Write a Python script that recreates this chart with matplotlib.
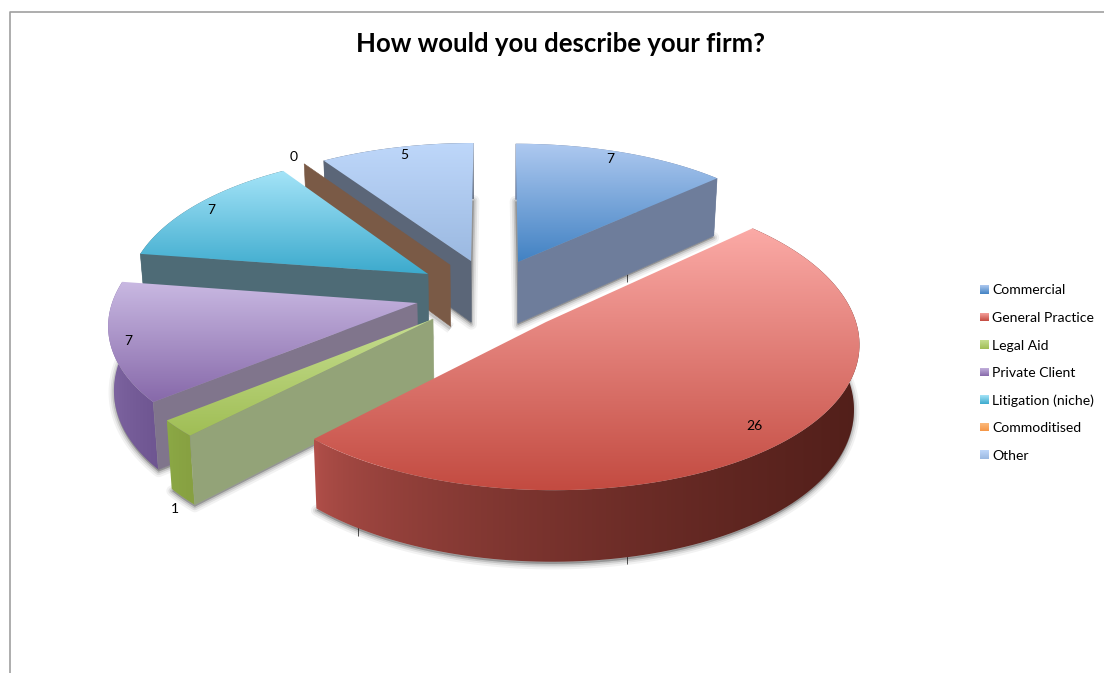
import numpy as np
import matplotlib
matplotlib.use('Agg')
import matplotlib.pyplot as plt
from matplotlib.patches import Polygon

plt.rcParams['font.family'] = ['Lato', 'DejaVu Sans']

title = 'How would you describe your firm?'
categories = ['Commercial', 'General Practice', 'Legal Aid', 'Private Client',
              'Litigation (niche)', 'Commoditised', 'Other']
values = [7, 26, 1, 7, 7, 0, 5]

# where each exploded slice has its point, in pixels
apex_x = [518, 546, 433, 417, 428, 450, 471]
apex_y = [262, 322, 319, 303, 274, 265, 261]
label_x = [610, 754, 175, 128, 211, 294, 404]
label_y = [159, 426, 509, 341, 210, 157, 155]

top_light = ['#aec9f0', '#fbaaa6', '#c6de90', '#c9b9e2', '#a5e4f8', '#fdbe82', '#bed7fa']
top_dark = ['#4282c3', '#c34b41', '#a0be55', '#8769aa', '#3caacd', '#f59646', '#9bb9e1']
cut_colors = ['#6e7d9b', '#6e2a25', '#93a378', '#80758c', '#4e6b76', '#7a5a46', '#5b6678']
wall_left = ['#6e7d9b', '#b2504a', '#8caa46', '#8269a5', '#4e6b76', '#7a5a46', '#5b6678']
wall_right = ['#6e7d9b', '#521f1a', '#87a041', '#6e5591', '#4e6b76', '#7a5a46', '#5b6678']
draw_order = [6, 5, 4, 3, 0, 2, 1]

# perspective of the pie plane: depth w maps to a screen row, and the
# horizontal scale grows towards the front
Y0 = 322.0
RY = 150.6
BEND = 17.6
X_VAN = 495.0
SCALE = 310.0
GROW = 0.00085


def row(w):
    return Y0 - RY * w + BEND * w ** 2


def depth(y):
    return (RY - np.sqrt(RY ** 2 - 4 * BEND * (Y0 - y))) / (2 * BEND)


def width(y):
    return SCALE * (1 + GROW * (y - Y0))


def to_ground(px, py):
    return (px - X_VAN) / width(py), depth(py)


def project(gx, gw, z=0.0):
    y = row(gw)
    x = X_VAN + width(y) * gx * (1 - 0.015 * z)
    return np.column_stack([x, y + (64 + 0.045 * (y - Y0)) * z])


def gradient(ax, poly, c0, c1, horizontal, z):
    # fill a polygon with a two colour linear gradient
    x0, y0 = poly.min(axis=0)
    x1, y1 = poly.max(axis=0)
    c0 = np.array(matplotlib.colors.to_rgb(c0))
    c1 = np.array(matplotlib.colors.to_rgb(c1))
    t = np.linspace(0, 1, 128)[:, None]
    if horizontal:
        img = (c0 + (c1 - c0) * t ** 0.6)[None, :, :]
    else:
        img = (c0 + (c1 - c0) * t)[:, None, :]
    clip = Polygon(poly, closed=True, fc='none', ec='none', zorder=z)
    ax.add_patch(clip)
    im = ax.imshow(img, extent=(x0, x1, y1, y0), aspect='auto', zorder=z,
                   interpolation='bilinear')
    im.set_clip_path(clip)


fig = plt.figure(figsize=(11.04, 6.73), dpi=100)
ax = fig.add_axes([0, 0, 1, 1])

# chart frame
ax.plot([10, 10, 1104], [673, 12, 12], color='#a0a0a0', lw=1.2, zorder=1)
# stubs of the hidden category axis
ax.vlines([627, 358, 627], [274, 527, 556], [282, 536, 564], color='#555555', lw=0.7, zorder=1)

ends = np.cumsum(values) / np.sum(values) * 2 * np.pi
starts = ends - np.array(values) / np.sum(values) * 2 * np.pi

z = 2
for i in draw_order:
    a0, a1 = starts[i], ends[i]
    gx, gw = to_ground(apex_x[i], apex_y[i])
    th = np.linspace(a0, a1, 120)
    rim_x = gx + np.sin(th)
    rim_w = gw + np.cos(th)
    all_x = np.r_[gx, rim_x]
    all_w = np.r_[gw, rim_w]

    # soft shadow from the underside of the slice
    under = project(all_x, all_w, 1.03)
    for lw, al in [(8, 0.05), (5, 0.08), (2.5, 0.12)]:
        ax.add_patch(Polygon(under, closed=True, fc=(0, 0, 0, al), ec=(0, 0, 0, al),
                             lw=lw, joinstyle='round', zorder=z))
    z += 1

    # outer wall
    if values[i] > 0:
        wall = np.vstack([project(rim_x, rim_w, 0), project(rim_x, rim_w, 1)[::-1]])
        gradient(ax, wall, wall_left[i], wall_right[i], True, z)
        z += 1

    # cut faces that turn towards the viewer
    for ang, show in [(a0, a0 >= np.pi), (a1, a1 < np.pi)]:
        if show:
            ex, ew = gx + np.sin(ang), gw + np.cos(ang)
            fx, fw = np.array([gx, ex]), np.array([gw, ew])
            face = np.vstack([project(fx, fw, 0), project(fx, fw, 1)[::-1]])
            ax.add_patch(Polygon(face, closed=True, fc=cut_colors[i], ec=cut_colors[i],
                                 lw=0.4, zorder=z))
            z += 1

    # top face
    if values[i] > 0:
        gradient(ax, project(all_x, all_w, 0), top_light[i], top_dark[i], False, z)
        z += 1

for i, v in enumerate(values):
    ax.text(label_x[i], label_y[i], str(v), ha='center', va='center',
            fontsize=10, color='black', zorder=z)

ax.text(561, 44.5, title, ha='center', va='center', fontsize=18.5,
        fontweight='bold', color='black', zorder=z)

# legend
for i, name in enumerate(categories):
    yc = 290 + 27.5 * i
    sw = np.array([[980, yc - 5], [989, yc - 5], [989, yc + 4], [980, yc + 4]])
    gradient(ax, sw, top_light[i], top_dark[i], False, z)
    ax.text(992, yc + 0.5, name, ha='left', va='center', fontsize=10.1, color='black', zorder=z)

ax.set_xlim(0, 1104)
ax.set_ylim(673, 0)
ax.axis('off')
fig.savefig('out.png', dpi=100)
